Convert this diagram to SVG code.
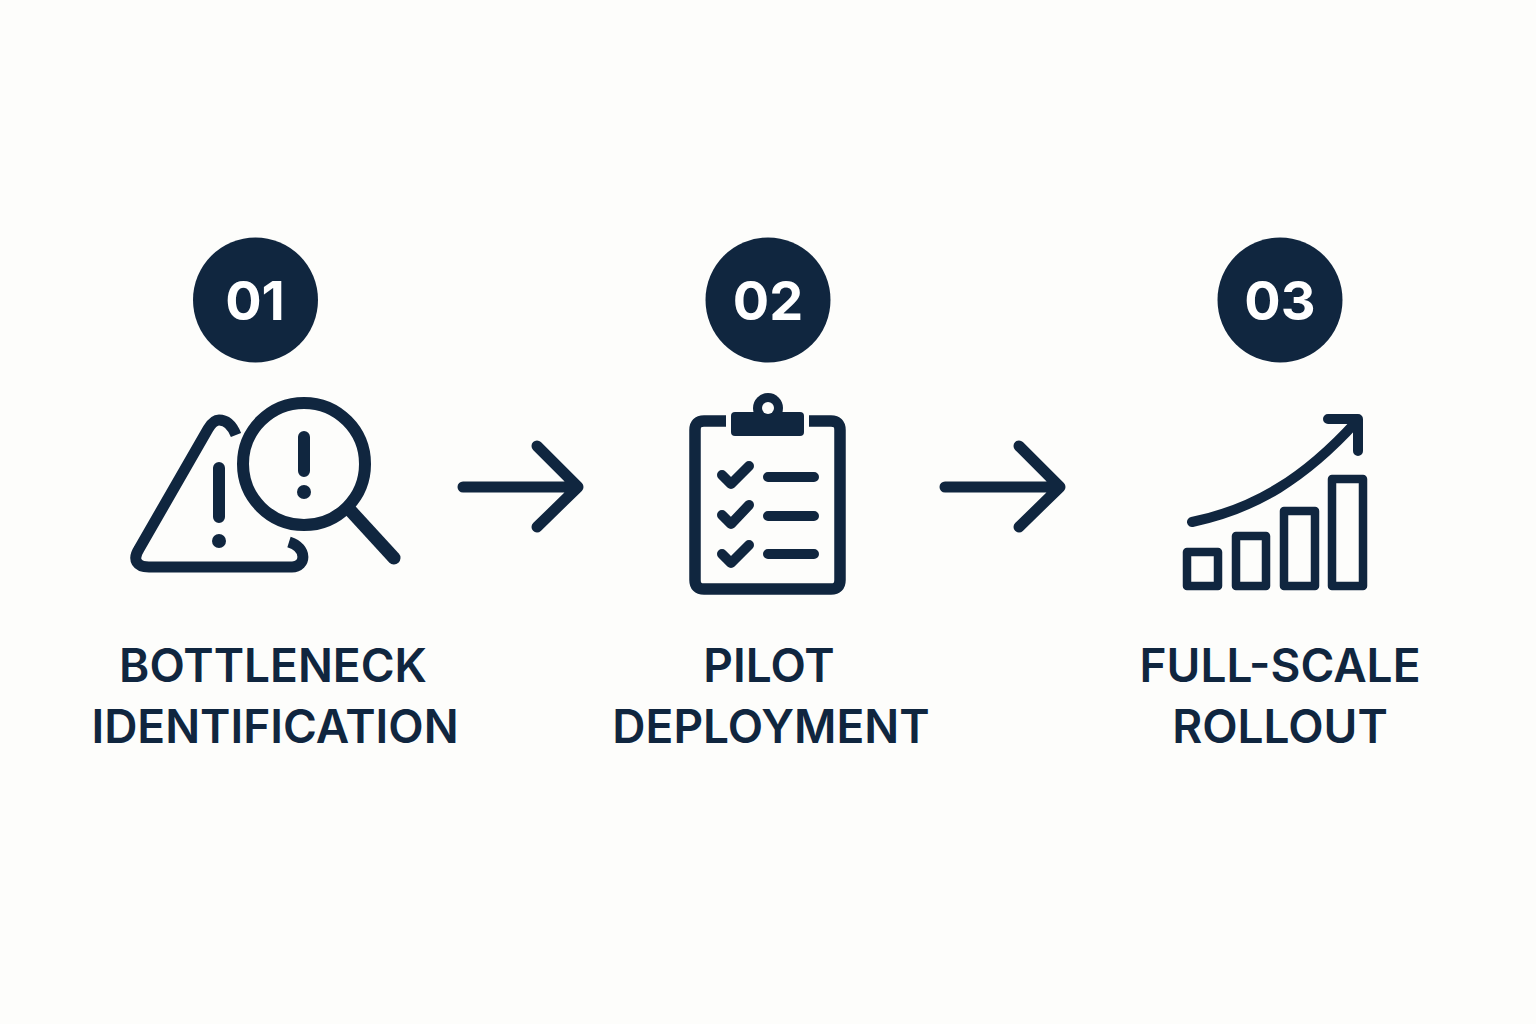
<svg xmlns="http://www.w3.org/2000/svg" width="1536" height="1024" viewBox="0 0 1536 1024">
<style>
.s{fill:none;stroke:#10263f;stroke-linecap:round;stroke-linejoin:round}
.f{fill:#10263f}
.lab{font-family:Inter,"Liberation Sans",sans-serif;font-weight:600;font-size:46px;fill:#10263f;text-anchor:middle}
.num{font-family:Inter,"Liberation Sans",sans-serif;font-weight:700;font-size:54px;fill:#fff;text-anchor:middle}
</style>
<rect width="1536" height="1024" fill="#fdfdfb"/>
<g id="connectors">
<path class="s" stroke-width="11" d="M463 487H577M537 446L578 487L537 527"/>
<path class="s" stroke-width="11" d="M945 487H1059M1019 446L1060 487L1019 527"/>
</g>
<g id="step1">
<circle class="f" cx="255.500" cy="300" r="62.500"/>
<text class="num" x="255" y="320">01</text>
<path class="s" style="stroke-linecap:butt" stroke-width="11" d="M236 435C232 425 227 420 219 420C214 420 211 424 208 429L139 549C132 560 137 567 149 567L292 567C306 567 308 548 289 542"/>
<path class="s" stroke-width="12" d="M219 468V517M304 437V471"/>
<circle class="f" cx="219" cy="541" r="7"/>
<circle class="f" cx="304" cy="492" r="7"/>
<circle class="s" cx="304" cy="464" r="61" stroke-width="12"/>
<path class="s" stroke-width="13" d="M350 510L394 558"/>
<text class="lab" x="273" y="682">BOTTLENECK</text>
<text class="lab" x="275" y="743">IDENTIFICATION</text>
</g>
<g id="step2">
<circle class="f" cx="768" cy="300" r="62.500"/>
<text class="num" x="768" y="320">02</text>
<path class="s" style="stroke-linecap:butt" stroke-width="11.500" d="M726 421H704Q695 421 695 430V580Q695 589 704 589H831Q840 589 840 580V430Q840 421 831 421H809"/>
<circle class="f" cx="768" cy="408" r="15"/>
<rect class="f" x="731" y="412" width="73" height="24" rx="4"/>
<circle cx="768" cy="408" r="6" fill="#fdfdfb"/>
<path class="s" stroke-width="10" d="M722 475L731 484L749 466M722 515L731 524L749 505M722 554L731 563L749 545"/>
<path class="s" stroke-width="10" d="M768 477H814M768 516H814M768 554H814"/>
<text class="lab" x="769" y="682">PILOT</text>
<text class="lab" x="771" y="743">DEPLOYMENT</text>
</g>
<g id="step3">
<circle class="f" cx="1280" cy="300" r="62.500"/>
<text class="num" x="1280" y="320">03</text>
<g class="s" stroke-width="8.500" style="stroke-linejoin:round">
<rect x="1187" y="552" width="31" height="34"/>
<rect x="1236" y="536" width="30" height="50"/>
<rect x="1284" y="511" width="31" height="75"/>
<rect x="1332" y="479" width="31" height="107"/>
</g>
<path class="s" stroke-width="10" d="M1192 522C1255 509 1305 478 1356 422M1328 419H1358V451"/>
<text class="lab" x="1280" y="682">FULL-SCALE</text>
<text class="lab" x="1280" y="743">ROLLOUT</text>
</g>
</svg>
